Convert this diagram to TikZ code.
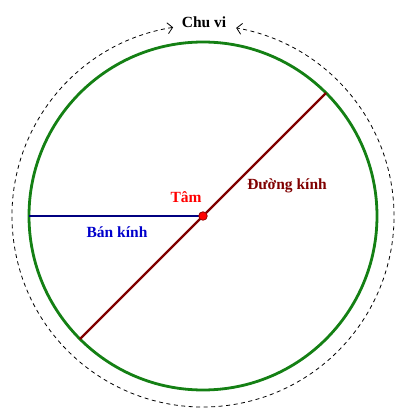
\documentclass[tikz,border=0pt]{standalone}
\usepackage{fontspec}
\setmainfont{Liberation Serif}
\usepackage{xcolor}
\usepackage{tikz}
\usetikzlibrary{arrows.meta,positioning,calc}

\definecolor{vien}{RGB}{20,128,20}
\definecolor{nau}{RGB}{128,0,0}
\definecolor{xanh}{RGB}{0,0,128}

\tikzset{
    nhan/.style={font=\fontsize{15.5bp}{17bp}\selectfont\bfseries, inner sep=0pt}
}

\begin{document}
\begin{tikzpicture}[x=1bp,y=1bp]
                \useasboundingbox (0,0) rectangle (405,419);

                \coordinate (O) at (203,203);
                \coordinate (d1) at ($(O)+(45:174)$);
                \coordinate (d2) at ($(O)+(225:174)$);
                \coordinate (r) at ($(O)+(180:174)$);
                \coordinate (cv) at ($(O)+(99:191)$);

                \draw[
                    line width=0.8bp,
                    dash pattern=on 4bp off 3.5bp,
                    {Straight Barb[length=5bp,width=11bp]}-{Straight Barb[length=5bp,width=11bp]}
                    ] (cv) arc[start angle=99, end angle=440, radius=191];

                \draw[
                    line width=2.8bp,
                    draw=vien
                    ] (O) circle[radius=174];

                \draw[
                    line width=2.8bp,
                    draw=xanh
                    ] (r) -- (O);

                \draw[
                    line width=2.3bp,
                    draw=nau
                    ] (d2) -- (d1);

                \node[
                    circle,
                    fill=red,
                    draw=red!60!black,
                    line width=0.8bp,
                    inner sep=0pt,
                    minimum size=8.5bp
                    ] (tam) at (O) {};

                \node[nhan, text=red] (tamnhan) at (186,222) {Tâm};
                \node[nhan, text=nau] (duongkinh) at (287,233) {Đường kính};
                \node[nhan, text=blue!80!black] (bankinh) at (117,187) {Bán kính};
                \node[nhan] (chuvi) at (204,397) {Chu vi};

             \end{tikzpicture}
\end{document}
